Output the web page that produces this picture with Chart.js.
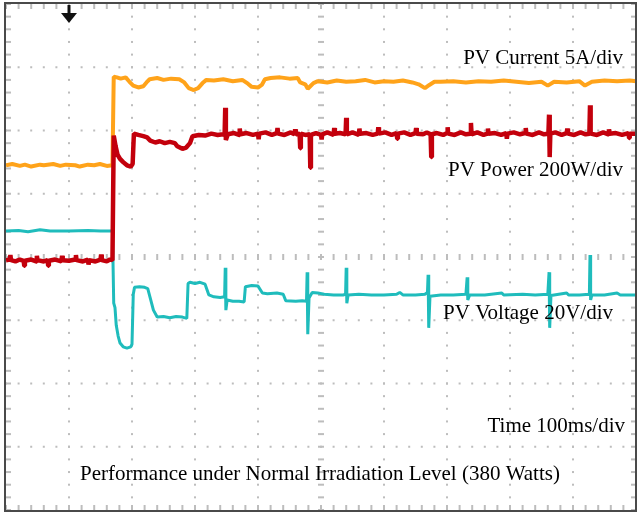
<!DOCTYPE html>
<html><head><meta charset="utf-8">
<script src="https://cdn.jsdelivr.net/npm/chart.js@4"></script>
<style>html,body{margin:0;padding:0;background:#fff}canvas{display:block}</style>
</head><body>
<canvas id="c" width="638" height="514"></canvas>
<script>
// time in ms (100 ms/div), values in screen divisions (0 = bottom, 8 = top)
const currentTrace = [[0,5.45],[10,5.47],[22,5.44],[30,5.46],[40,5.43],[54,5.46],[60,5.45],[75,5.47],[86,5.44],[95,5.46],[110,5.45],[117,5.43],[130,5.46],[140,5.45],[149,5.47],[160,5.44],[169,5.45],
[171,6.85],[176,6.84],[182,6.82],[190,6.84],[196,6.77],[202,6.71],[210,6.68],[218,6.70],[223,6.76],[228,6.81],[240,6.83],[250,6.80],[262,6.82],[275,6.81],[283,6.76],[290,6.67],[298,6.64],[305,6.67],[312,6.75],[318,6.80],[330,6.79],[345,6.81],[360,6.78],[375,6.80],[384,6.74],[390,6.69],[400,6.68],[406,6.72],[411,6.81],[420,6.83],[435,6.84],[450,6.82],[463,6.83],[467,6.76],[475,6.73],[479,6.66],[483,6.70],[488,6.75],[495,6.78],[510,6.76],[525,6.79],[540,6.77],[555,6.78],[570,6.80],[585,6.76],[600,6.78],[615,6.77],[630,6.79],[645,6.76],[655,6.73],[665,6.67],[672,6.72],[680,6.77],[690,6.77],[710,6.78],[730,6.76],[750,6.78],[770,6.77],[790,6.79],[810,6.77],[830,6.75],[850,6.77],[860,6.71],[870,6.77],[890,6.76],[910,6.78],[919,6.71],[930,6.77],[950,6.79],[970,6.78],[990,6.79],[1000,6.78]];

const powerTrace = [[0,3.95],[6,3.96],[7,4.03],[8,3.95],[15,3.93],[22,3.96],[28,3.94],[29,3.86],[30,3.94],[40,3.96],[48,3.93],[49,4.02],[50,3.95],[60,3.93],[66,3.95],[67,3.86],[68,3.94],[78,3.96],[88,3.93],[89,4.02],[90,3.95],[100,3.94],[110,3.96],[111,4.03],[112,3.95],[122,3.93],[130,3.96],[131,3.88],[132,3.95],[142,3.93],[150,3.96],[151,4.04],[152,3.95],[160,3.93],[165,3.96],[169,3.95],
[171,5.92],[174,5.75],[177,5.62],[181,5.55],[186,5.50],[192,5.45],[198,5.43],[201,5.47],[203,5.95],[210,5.93],[218,5.91],[224,5.89],[229,5.84],[237,5.81],[244,5.83],[252,5.80],[260,5.82],[268,5.80],[272,5.75],[280,5.71],[286,5.73],[292,5.80],[296,5.91],[306,5.93],[316,5.92],[326,5.95],[336,5.93],[344,5.94],[347,5.93],[348,6.36],[349,5.85],[352,5.94],
[362,5.96],[370,5.93],[371,6.03],[372,5.94],[382,5.96],[392,5.93],[400,5.95],[401,5.86],[402,5.95],[412,5.97],[422,5.93],[430,5.96],[431,6.04],[432,5.95],[442,5.93],[452,5.97],[458,5.94],[459,6.02],[460,5.94],[466,5.95],[467,5.72],[468,5.95],[475,5.93],[482,5.94],[483,5.41],[484,5.93],[492,5.96],[500,5.93],[501,5.86],[502,5.94],[510,5.97],[520,5.93],[521,6.04],[522,5.95],[530,5.96],[539,5.94],[540,6.20],[541,5.94],[550,5.97],[560,5.93],[561,6.03],[562,5.95],[572,5.96],[582,5.93],[590,5.95],[591,6.05],[592,5.95],[602,5.97],[612,5.93],[620,5.96],[621,5.87],[622,5.95],[632,5.97],[642,5.93],[650,5.96],[651,6.04],[652,5.95],[662,5.94],[668,5.97],[674,5.94],[675,5.58],[676,5.94],[684,5.96],[694,5.93],[700,5.96],[701,6.05],[702,5.95],[712,5.93],[722,5.97],[730,5.94],[737,5.95],[738,6.12],[739,5.94],[748,5.97],[758,5.93],[764,5.95],[765,6.03],[766,5.95],[776,5.96],[786,5.93],[794,5.96],[795,5.87],[796,5.95],[806,5.97],[816,5.94],[824,5.96],[825,6.04],[826,5.95],[836,5.93],[846,5.97],[854,5.94],[861,5.95],[862,6.25],[863,5.58],[864,5.95],[872,5.97],[882,5.93],[890,5.96],[891,6.03],[892,5.95],[902,5.93],[912,5.97],[920,5.94],[926,5.95],[927,6.40],[928,5.95],[938,5.93],[948,5.97],[956,5.94],[957,6.02],[958,5.95],[968,5.96],[978,5.93],[988,5.96],[989,5.88],[990,5.95],[1000,5.95]];

const voltageTrace = [[0,4.41],[20,4.42],[35,4.40],[54,4.43],[70,4.41],[100,4.41],[130,4.42],[150,4.41],[169,4.41],
[171,3.27],[173,3.20],[175,2.92],[178,2.75],[181,2.64],[186,2.58],[192,2.56],[198,2.58],[200,2.62],[202,3.41],[204,3.52],[212,3.53],[220,3.52],[225,3.50],[229,3.35],[234,3.16],[240,3.05],[250,3.06],[260,3.04],[270,3.06],[280,3.05],[287,3.03],[289,3.58],[292,3.60],[300,3.58],[308,3.60],[316,3.57],[322,3.40],[330,3.37],[340,3.36],[347,3.37],[348,3.83],[349,3.16],[351,3.32],[360,3.30],[370,3.30],[378,3.29],[380,3.53],[390,3.55],[400,3.54],[407,3.43],[415,3.42],[430,3.43],[440,3.41],[444,3.31],[460,3.30],[470,3.31],[477,3.30],[478,3.76],[479,2.78],[481,3.35],[486,3.44],[495,3.43],[505,3.41],[520,3.40],[535,3.40],[539,3.41],[540,3.83],[541,3.27],[543,3.40],[560,3.41],[580,3.40],[600,3.40],[620,3.41],[625,3.44],[630,3.40],[650,3.40],[665,3.41],[669,3.44],[670,3.72],[671,2.88],[673,3.38],[690,3.40],[710,3.40],[730,3.41],[732,3.68],[733,3.32],[736,3.40],[760,3.40],[787,3.43],[790,3.40],[820,3.41],[840,3.40],[860,3.41],[862,3.76],[863,2.88],[865,3.39],[890,3.43],[893,3.40],[910,3.40],[926,3.41],[927,4.03],[928,3.32],[930,3.40],[950,3.40],[970,3.43],[975,3.40],[1000,3.40]];

const traceNames = ['PV Current 5A/div', 'PV Power 200W/div', 'PV Voltage 20V/div'];
const timeLabel = 'Time 100ms/div';
const captionText = 'Performance under Normal Irradiation Level (380 Watts)';
const timeDivisions = [0,100,200,300,400,500,600,700,800,900,1000];
const voltDivisions = [0,1,2,3,4,5,6,7,8];
const triggerTime = 100;

const toXY = arr => arr.map(p => ({x: p[0], y: p[1]}));

const graticule = {
  id: 'graticule',
  beforeDatasetsDraw(chart) {
    const {ctx, chartArea: a, scales: {x, y}} = chart;
    ctx.save();
    ctx.fillStyle = '#bdbdbd';
    const xMin = [], yMin = [];
    for (let t = 0; t <= 1000; t += 20) xMin.push(x.getPixelForValue(t));
    for (let k = 0; k <= 40; k++) yMin.push(y.getPixelForValue(k * 0.2));
    timeDivisions.slice(1, -1).forEach(t => {
      if (t === 500) return;
      const px = x.getPixelForValue(t);
      yMin.forEach(py => ctx.fillRect(px - 1, py - 1, 2, 2));
    });
    voltDivisions.slice(1, -1).forEach(v => {
      if (v === 4) return;
      const py = y.getPixelForValue(v);
      xMin.forEach(px => ctx.fillRect(px - 1, py - 1, 2, 2));
    });
    const cx = x.getPixelForValue(500), cy = y.getPixelForValue(4);
    yMin.forEach(py => ctx.fillRect(cx - 3, py - 1, 6, 2));
    xMin.forEach(px => ctx.fillRect(px - 1, cy - 3, 2, 6));
    xMin.forEach(px => { ctx.fillRect(px - 1, a.top, 2, 5); ctx.fillRect(px - 1, a.bottom - 5, 2, 5); });
    yMin.forEach(py => { ctx.fillRect(a.left, py - 1, 5, 2); ctx.fillRect(a.right - 5, py - 1, 5, 2); });
    ctx.restore();
  },
  afterDatasetsDraw(chart) {
    const {ctx, chartArea: a, scales: {x}} = chart;
    ctx.save();
    ctx.strokeStyle = '#4a4a4a';
    ctx.lineWidth = 2;
    ctx.strokeRect(a.left - 1, a.top - 1, a.right - a.left + 1, a.bottom - a.top + 2);
    const tx = x.getPixelForValue(triggerTime);
    ctx.fillStyle = '#111';
    ctx.fillRect(tx - 1.5, a.top + 1, 3, 10);
    ctx.beginPath();
    ctx.moveTo(tx - 8, a.top + 9);
    ctx.lineTo(tx + 8, a.top + 9);
    ctx.lineTo(tx, a.top + 19);
    ctx.closePath();
    ctx.fill();
    ctx.fillStyle = '#000';
    ctx.font = '21px "Liberation Serif", "Times New Roman", serif';
    ctx.textBaseline = 'alphabetic';
    ctx.textAlign = 'right';
    ctx.fillText(traceNames[0], 623, 64);
    ctx.fillText(traceNames[1], 623, 176);
    ctx.fillText(traceNames[2], 613, 319);
    ctx.fillText(timeLabel, 625, 432);
    ctx.textAlign = 'left';
    ctx.fillText(captionText, 80, 480);
    ctx.restore();
  }
};

new Chart(document.getElementById('c'), {
  type: 'line',
  data: {
    datasets: [
      {label: traceNames[1], data: toXY(powerTrace), borderColor: '#c3000c', borderWidth: 4.5},
      {label: traceNames[2], data: toXY(voltageTrace), borderColor: '#1fbcbc', borderWidth: 3},
      {label: traceNames[0], data: toXY(currentTrace), borderColor: '#ffa31a', borderWidth: 4}
    ]
  },
  options: {
    responsive: false,
    animation: false,
    devicePixelRatio: 1,
    layout: {padding: {left: 6, right: 2, top: 4, bottom: 4}},
    elements: {point: {radius: 0}, line: {tension: 0, borderJoinStyle: 'bevel', borderCapStyle: 'butt', fill: false}},
    plugins: {legend: {display: false}, tooltip: {enabled: false}},
    scales: {
      x: {type: 'linear', min: 0, max: 1000, display: false},
      y: {type: 'linear', min: 0, max: 8, display: false}
    }
  },
  plugins: [graticule]
});
</script></body></html>
